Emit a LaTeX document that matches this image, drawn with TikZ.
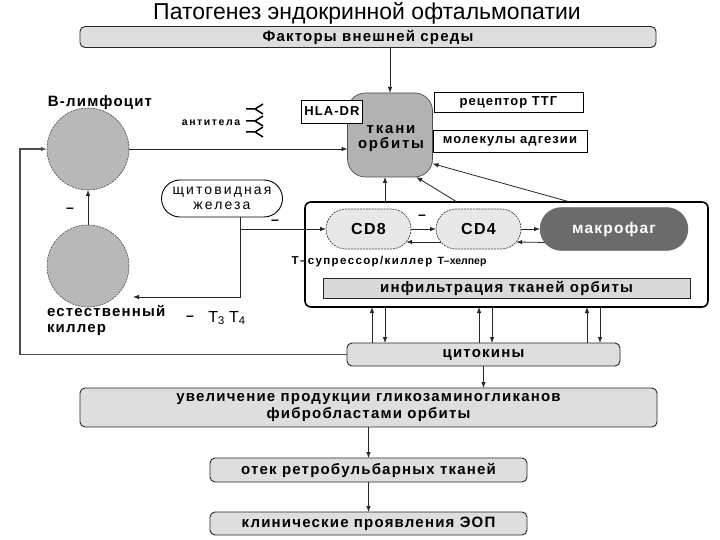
\documentclass[tikz,border=0pt]{standalone}
\usepackage{fontspec}
\setmainfont{Liberation Sans}
\newfontfamily\lsA[LetterSpace=8]{Liberation Sans}
\newfontfamily\lsB[LetterSpace=12]{Liberation Sans}
\newfontfamily\lsC[LetterSpace=15]{Liberation Sans}
\usetikzlibrary{arrows.meta,shapes.misc,calc}
\begin{document}
\begin{tikzpicture}[x=1pt,y=-1pt,
  every node/.style={inner sep=0pt, outer sep=0pt},
  bx/.style={draw=black!85, line width=0.9pt, rounded corners=5pt, fill=black!13, align=center,
     font=\lsA\bfseries\fontsize{15}{17}\selectfont},
  wbox/.style={draw=black, line width=0.8pt, fill=white, font=\lsA\bfseries\fontsize{13}{15}\selectfont},
  cell/.style={circle, draw=black!70, dash pattern=on 2pt off 1pt, line width=0.6pt, fill=black!28, minimum size=82pt},
  tcell/.style={rounded rectangle, draw=black!75, dash pattern=on 2pt off 1pt, line width=0.7pt, fill=black!9,
     minimum width=85pt, minimum height=40pt, font=\lsA\bfseries\fontsize{16}{18}\selectfont},
  lbl/.style={font=\lsA\bfseries\fontsize{15}{16}\selectfont},
  small/.style={font=\lsB\bfseries\fontsize{11.5}{13}\selectfont},
  minus/.style={font=\bfseries\fontsize{14}{16}\selectfont},
  arr/.style={-{Latex[length=6pt,width=4.5pt]}, line width=0.8pt, draw=black!85},
  ln/.style={line width=0.8pt, draw=black!85}]
\fill[white] (0,0) rectangle (720,540);
\useasboundingbox (0,0) rectangle (720,540);

% title and top box
\node[font=\fontsize{23}{26}\selectfont] (title) at (367,13) {Патогенез эндокринной офтальмопатии};
\node[bx, minimum width=576pt, minimum height=21pt] (fact) at (368,37) {Факторы внешней среды};

% tissue of orbit
\node[draw=black!70, line width=0.7pt, rounded corners=18pt, fill=black!30, minimum width=85pt, minimum height=84pt] (tk) at (390,135) {};
\node[align=center, font=\lsB\bfseries\fontsize{15}{15}\selectfont] (tklbl) at (391,139) {ткани\\орбиты};
\node[wbox, minimum width=61pt, minimum height=23pt] (hla) at (332,111.5) {HLA-DR};
\node[wbox, minimum width=149pt, minimum height=20pt] (ttg) at (508.5,102) {рецептор ТТГ};
\node[wbox, minimum width=154pt, minimum height=22pt] (adh) at (510,141) {молекулы адгезии};

% cells on the left
\node[cell] (B) at (88,149) {};
\node[cell] (NK) at (88,266) {};
\node[lbl] (Blbl) at (100,103) {В-лимфоцит};
\node[lbl, align=left, anchor=west] (NKlbl) at (47,320) {естественный\\киллер};
\node[font=\lsC\bfseries\fontsize{10.5}{12}\selectfont] (ab) at (211,123) {антитела};
\foreach \yc in {109,121,132}{
  \draw[line width=1.5pt] (246,\yc) -- (255,\yc) (263,\yc-5) -- (255,\yc) -- (263,\yc+5);
}

% thyroid
\node[rounded rectangle, draw=black, line width=0.9pt, minimum width=121pt, minimum height=37pt, align=center,
  font=\lsC\fontsize{14}{15}\selectfont] (thy) at (222,198.5) {щитовидная\\железа};

% big frame
\node[draw=black, line width=1.6pt, rounded corners=6pt, minimum width=403pt, minimum height=105pt] (big) at (506.5,254.5) {};
\node[tcell] (cd8) at (368.5,229) {CD8};
\node[tcell] (cd4) at (478.5,229) {CD4};
\node[rounded rectangle, draw=black!60, fill=black!58, minimum width=148pt, minimum height=43pt, text=white,
  font=\lsA\bfseries\fontsize{15.5}{17}\selectfont] (mac) at (614,229) {макрофаг};
\node[small] (l8) at (362,262) {Т–супрессор/киллер};
\node[font=\bfseries\fontsize{10.5}{12}\selectfont] (l4) at (462,262) {Т–хелпер};
\node[bx, rounded corners=0pt, minimum width=367pt, minimum height=20pt, fill=black!15] (inf) at (506.5,288) {инфильтрация тканей орбиты};

% lower boxes
\node[bx, minimum width=273pt, minimum height=23pt] (cyto) at (483.5,354.5) {цитокины};
\node[bx, minimum width=577pt, minimum height=39pt, font=\lsA\bfseries\fontsize{15}{16.5}\selectfont] (gly) at (368.5,407.5)
  {увеличение продукции гликозаминогликанов\\фибробластами орбиты};
\node[bx, minimum width=317pt, minimum height=24pt] (otek) at (368.5,470) {отек ретробульбарных тканей};
\node[bx, minimum width=317pt, minimum height=23pt] (klin) at (368.5,523.5) {клинические проявления ЭОП};

% minus signs and hormones
\node[minus] (m1) at (70,210) {–};
\node[minus] (m2) at (275,222) {–};
\node[minus] (m3) at (422,217) {–};
\node[minus] (m4) at (190,318) {–};
\node[font=\fontsize{16}{18}\selectfont] (t34) at (227,318) {T\textsubscript{3} T\textsubscript{4}};

% connectors
\draw[arr] (fact.south -| tk.north) -- (tk.north);
\draw[arr] (B.east) -- (B.east -| tk.west);
\draw[arr] (NK.north) -- (B.south);
\coordinate (fb) at (20,0);
\draw[arr, line width=1.3pt, draw=black!70] (cyto.west) -- (cyto.west -| fb) |- (B.west);
\coordinate (ty) at (240,0);
\coordinate (nkin) at (133,297);
\draw[arr] (ty |- thy.south) |- (nkin);
\draw[arr] (ty |- cd8.west) -- (cd8.west);

\coordinate (s1) at (385,0);
\coordinate (s2) at (457,0);
\coordinate (s3) at (570,0);
\draw[arr] (s1 |- big.north) -- (s1 |- tk.south);
\draw[arr] (s2 |- big.north) -- (tk.-58);
\draw[arr] (s3 |- big.north) -- (tk.-34);

\draw[arr] (cd8.east) -- (cd4.west);
\draw[arr] (cd4.199) -- (cd8.-19);
\draw[arr] (cd4.east) -- (mac.west);
\draw[arr] (mac.191) -- (cd4.-19);

\foreach \u/\d in {372/385,479/492,587/600}{
  \coordinate (u) at (\u,0);
  \coordinate (d) at (\d,0);
  \draw[arr] (u |- cyto.north) -- (u |- big.south);
  \draw[arr] (d |- big.south) -- (d |- cyto.north);
}
\draw[arr] (cyto.south) -- (cyto.south |- gly.north);
\draw[arr] (gly.south) -- (otek.north);
\draw[arr] (otek.south) -- (klin.north);
\end{tikzpicture}
\end{document}
